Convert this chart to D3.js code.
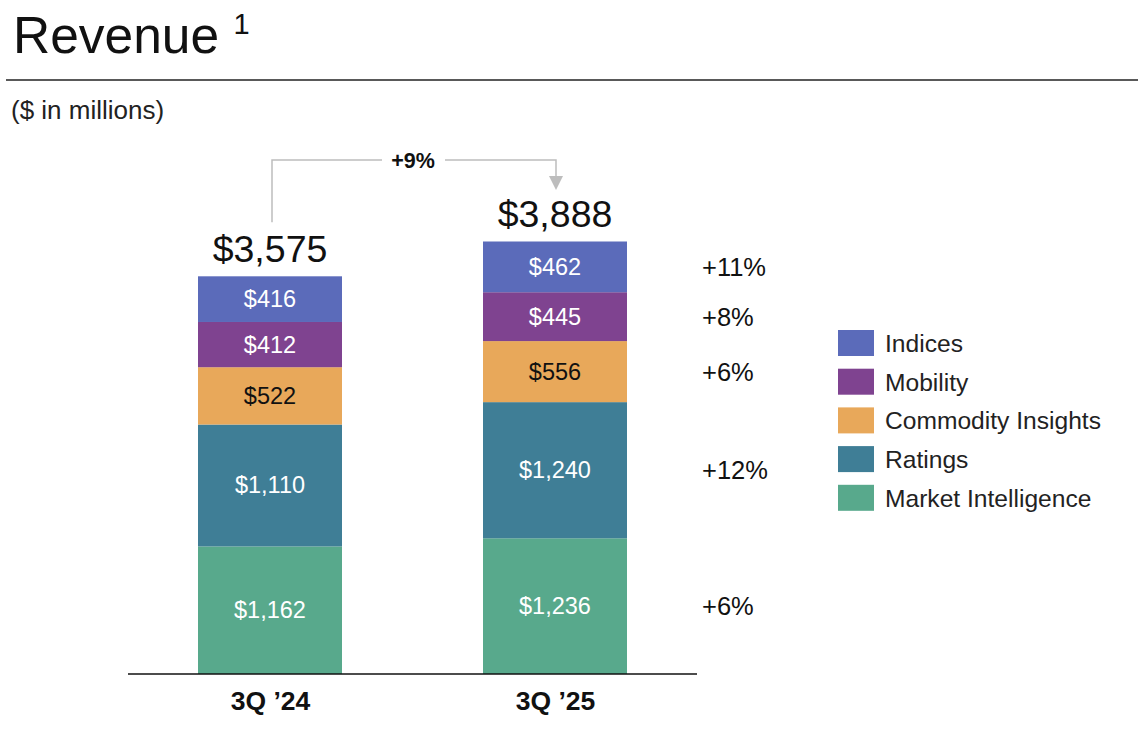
<!DOCTYPE html>
<html>
<head>
<meta charset="utf-8">
<script src="https://cdn.jsdelivr.net/npm/d3@7"></script>
<style>
  body { margin: 0; background: #fff; }
  svg text { font-family: "Liberation Sans", Arial, sans-serif; }
</style>
</head>
<body>
<div id="chart"></div>
<script>
// quarters and segment values ($ in millions)
var quarters = ["3Q \u201924", "3Q \u201925"];
var segments = ["Market Intelligence", "Ratings", "Commodity Insights", "Mobility", "Indices"];
var q24 = [1162, 1110, 522, 412, 416];
var q25 = [1236, 1240, 556, 445, 462];
var totals = [3575, 3888];
var growth = ["+6%", "+12%", "+6%", "+8%", "+11%"];
var totalGrowth = "+9%";
var colors = ["#58a98c", "#3f7e96", "#e8a85a", "#7f4390", "#5b6bba"];
var labelColors = ["#fff", "#fff", "#111", "#fff", "#fff"];

var svg = d3.select("#chart").append("svg")
    .attr("width", 1144)
    .attr("height", 730);

// header
var title = svg.append("text").attr("x", 13).attr("y", 53)
    .attr("font-size", 51.5).attr("fill", "#111");
title.append("tspan").text("Revenue ");
title.append("tspan").attr("font-size", 29).attr("dy", -19).text("1");
svg.append("line").attr("x1", 6).attr("x2", 1138).attr("y1", 80).attr("y2", 80)
    .attr("stroke", "#222").attr("stroke-width", 1.5);
svg.append("text").attr("x", 11).attr("y", 119).attr("font-size", 26)
    .attr("fill", "#222").text("($ in millions)");

var rows = [q24, q25].map(function (vals, i) {
    var o = { quarter: quarters[i] };
    segments.forEach(function (s, j) { o[s] = vals[j]; });
    return o;
});
var stacked = d3.stack().keys(segments)(rows);

var x = d3.scalePoint().domain(quarters).range([270, 555]);
var barW = 144;
var y = d3.scaleLinear().domain([0, 4000]).range([674, 234.8]);

var layer = svg.selectAll("g.layer").data(stacked).enter().append("g")
    .attr("fill", function (d, i) { return colors[i]; });
layer.selectAll("rect").data(function (d) { return d; }).enter().append("rect")
    .attr("x", function (d) { return x(d.data.quarter) - barW / 2; })
    .attr("y", function (d) { return y(d[1]); })
    .attr("width", barW)
    .attr("height", function (d) { return y(d[0]) - y(d[1]); });
layer.each(function (s, i) {
    d3.select(this).selectAll("text").data(s).enter().append("text")
        .attr("x", function (d) { return x(d.data.quarter); })
        .attr("y", function (d) { return (y(d[0]) + y(d[1])) / 2 + 8; })
        .attr("text-anchor", "middle")
        .attr("font-size", 23.5)
        .attr("fill", labelColors[i])
        .text(function (d) { return "$" + d3.format(",")(d[1] - d[0]); });
});

// totals above bars
var tops = rows.map(function (r, i) { return y(stacked[stacked.length - 1][i][1]); });
svg.selectAll("text.total").data(totals).enter().append("text")
    .attr("class", "total")
    .attr("x", function (d, i) { return x(quarters[i]); })
    .attr("y", function (d, i) { return tops[i] - 14; })
    .attr("text-anchor", "middle")
    .attr("font-size", 37.5)
    .attr("fill", "#111")
    .text(function (d) { return "$" + d3.format(",")(d); });

// growth arrow
var x1 = x(quarters[0]) + 2, x2 = x(quarters[1]) + 1, yTop = 160;
svg.append("path")
    .attr("d", "M" + x1 + "," + (tops[0] - 54) + "V" + yTop + "H" + 382)
    .attr("fill", "none").attr("stroke", "#bdbdbd").attr("stroke-width", 1.5);
svg.append("path")
    .attr("d", "M" + 445 + "," + yTop + "H" + x2 + "V" + 178)
    .attr("fill", "none").attr("stroke", "#bdbdbd").attr("stroke-width", 1.5);
svg.append("path")
    .attr("d", "M" + (x2 - 7) + ",176L" + (x2 + 7) + ",176L" + x2 + ",190Z")
    .attr("fill", "#bdbdbd");
svg.append("text").attr("x", 413).attr("y", 168).attr("text-anchor", "middle")
    .attr("font-size", 21.5).attr("font-weight", "bold").attr("fill", "#111").text(totalGrowth);

// growth column (positioned at 3Q'25 segments)
svg.selectAll("text.growth").data(growth).enter().append("text")
    .attr("class", "growth")
    .attr("x", 702)
    .attr("y", function (d, i) {
        var s = stacked[i][1];
        return (y(s[0]) + y(s[1])) / 2 + 9;
    })
    .attr("font-size", 25.5)
    .attr("fill", "#111")
    .text(function (d) { return d; });

// axis baseline + labels
var axis = svg.append("g").attr("transform", "translate(0,674)")
    .call(d3.axisBottom(x).tickSize(0));
axis.select(".domain").remove();
axis.selectAll("text").attr("y", 36).attr("dy", 0)
    .attr("font-size", 26.5).attr("font-weight", "bold")
    .attr("fill", "#111").style("font-family", "'Liberation Sans', Arial, sans-serif");
svg.append("line").attr("x1", 128).attr("x2", 697).attr("y1", 674).attr("y2", 674)
    .attr("stroke", "#111").attr("stroke-width", 1.5);

// legend
var legend = svg.selectAll("g.legend").data(segments.slice().reverse()).enter().append("g")
    .attr("class", "legend")
    .attr("transform", function (d, i) { return "translate(838," + (330 + i * 38.7) + ")"; });
legend.append("rect").attr("width", 36).attr("height", 26)
    .attr("fill", function (d, i) { return colors[segments.length - 1 - i]; });
legend.append("text").attr("x", 47).attr("y", 22).attr("font-size", 24.6)
    .attr("fill", "#222").text(function (d) { return d; });
</script>
</body>
</html>
